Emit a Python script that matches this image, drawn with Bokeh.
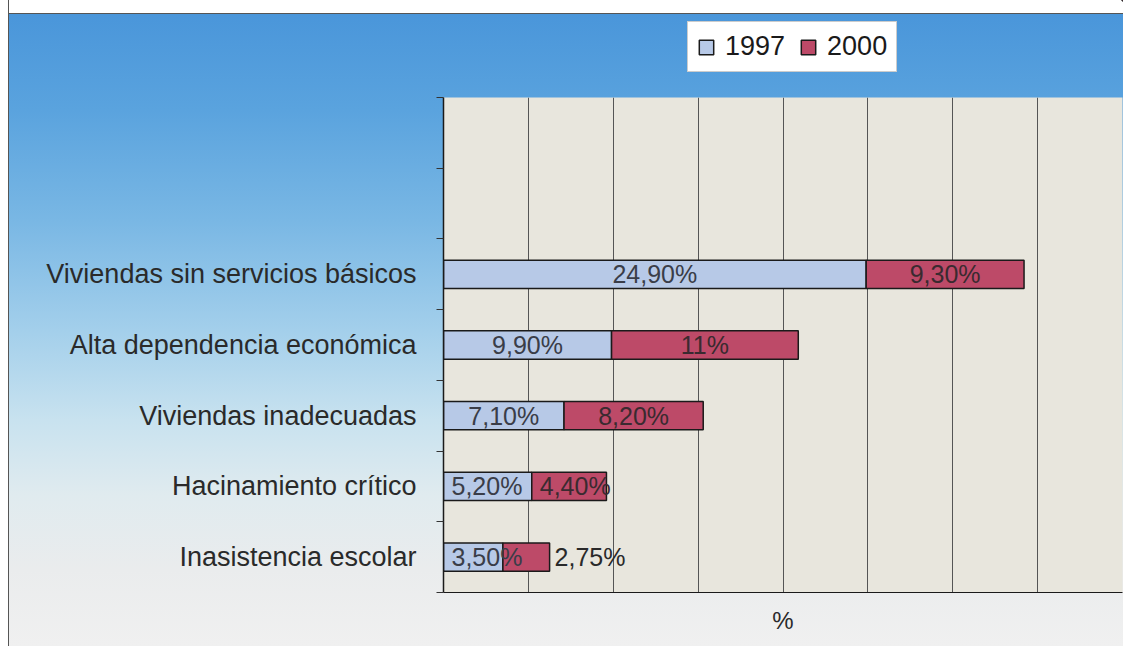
from bokeh.plotting import figure
from bokeh.layouts import column
from bokeh.models import ColumnDataSource, FixedTicker, Legend, LegendItem
from bokeh.core.properties import value
from bokeh.embed import file_html
from bokeh.resources import INLINE

# ---- data (bottom to top) ----
categories = ["Inasistencia escolar", "Hacinamiento crítico", "Viviendas inadecuadas",
              "Alta dependencia económica", "Viviendas sin servicios básicos"]
v1997 = [3.5, 5.2, 7.1, 9.9, 24.9]
v2000 = [2.75, 4.4, 8.2, 11.0, 9.3]
lab1997 = ["3,50%", "5,20%", "7,10%", "9,90%", "24,90%"]
lab2000 = ["2,75%", "4,40%", "8,20%", "11%", "9,30%"]
series = ["1997", "2000"]
x_ticks = [5, 10, 15, 20, 25, 30, 35]
n_slots = 7

FONT = "Liberation Sans"
C1997 = "#b7c9e7"
C2000 = "#bd4a68"
BAR_STYLE = dict(line_color="#1a1a1a", line_width=1.5)

ypos = [i + 0.5 for i in range(len(categories))]
left2000 = v1997
right2000 = [a + b for a, b in zip(v1997, v2000)]

src = ColumnDataSource(dict(y=ypos, l1=[0] * len(v1997), r1=v1997,
                            l2=left2000, r2=right2000))

# ---------------- main chart ----------------
p = figure(frame_width=679, frame_height=495, x_range=(0, 40), y_range=(0, n_slots),
           output_backend="svg", toolbar_location=None,
           min_border_left=443, min_border_right=1, min_border_top=0,
           min_border_bottom=54)
p.border_fill_color = None
p.background_fill_color = "#e8e6dd"
p.outline_line_color = None

r1 = p.hbar(y="y", left="l1", right="r1", height=0.4, source=src,
            fill_color=C1997, **BAR_STYLE)
r2 = p.hbar(y="y", left="l2", right="r2", height=0.4, source=src,
            fill_color=C2000, **BAR_STYLE)

# ---- data labels ----
def add_labels(starts, vals, labs, color, last_outside=False):
    groups = {"center": ([], [], []), "left": ([], [], []), "out": ([], [], [])}
    for i, (s, v, t) in enumerate(zip(starts, vals, labs)):
        if last_outside and i == 0:
            g = groups["out"]; g[0].append(s + v)
        elif v < 6:
            g = groups["left"]; g[0].append(s)
        else:
            g = groups["center"]; g[0].append(s + v / 2)
        g[1].append(ypos[i]); g[2].append(t)
    common = dict(text_font=value(FONT), text_font_size="25px", text_baseline="middle")
    for key, align, off, col in (("center", "center", 0, color),
                                 ("left", "left", 8, color),
                                 ("out", "left", 5, "#2a2a2a")):
        xs, ys, ts = groups[key]
        if xs:
            p.text(x=xs, y=ys, text=ts, text_align=align, x_offset=off,
                   text_color=col, **common)

add_labels([0] * len(v1997), v1997, lab1997, "#3a3d48")
add_labels(left2000, v2000, lab2000, "#3a2a30", last_outside=True)

# ---- axes ----
xa = p.xaxis[0]
xa.ticker = FixedTicker(ticks=[])
xa.major_tick_line_color = None
xa.major_tick_out = 0
xa.minor_tick_line_color = None
xa.axis_line_color = "#1a1a1a"
xa.axis_line_width = 1.2
xa.axis_label = "%"
xa.axis_label_text_font = FONT
xa.axis_label_text_font_size = "24px"
xa.axis_label_text_font_style = "normal"
xa.axis_label_text_color = "#2a2a2a"
xa.axis_label_standoff = 14

ya = p.yaxis[0]
ya.ticker = FixedTicker(ticks=ypos, minor_ticks=list(range(n_slots + 1)))
ya.major_label_overrides = {y: c for y, c in zip(ypos, categories)}
ya.major_tick_line_color = None
ya.major_tick_out = 0
ya.major_tick_in = 0
ya.minor_tick_out = 7
ya.minor_tick_in = 0
ya.minor_tick_line_color = "#333333"
ya.axis_line_color = "#1a1a1a"
ya.axis_line_width = 1.5
ya.major_label_text_font = FONT
ya.major_label_text_font_size = "27px"
ya.major_label_text_color = "#2a2a2a"
ya.major_label_standoff = 20

p.xgrid.ticker = FixedTicker(ticks=x_ticks)
p.xgrid.grid_line_color = "#555555"
p.xgrid.grid_line_width = 1
p.ygrid.grid_line_color = None

# ---------------- legend strip above the chart ----------------
# (its ranges are set so that the key renderers' bars fall outside the view;
#  only their swatches appear in the legend)
top = figure(width=1123, height=97, x_range=(-2, -1), y_range=(-2, -1),
             output_backend="svg", toolbar_location=None,
             min_border_left=0, min_border_right=0, min_border_top=0, min_border_bottom=0)
top.axis.visible = False
top.grid.visible = False
top.border_fill_color = None
top.background_fill_color = None
top.outline_line_color = None
k1 = top.hbar(y="y", left="l1", right="r1", height=0.4, source=src,
              fill_color=C1997, **BAR_STYLE)
k2 = top.hbar(y="y", left="l2", right="r2", height=0.4, source=src,
              fill_color=C2000, **BAR_STYLE)

legend = Legend(items=[LegendItem(label=series[0], renderers=[k1]),
                       LegendItem(label=series[1], renderers=[k2])],
                orientation="horizontal", location=(244, 25),
                glyph_width=18, glyph_height=18, label_standoff=10, spacing=14,
                padding=9, margin=0,
                label_text_font=FONT, label_text_font_size="27px",
                label_text_color="#1a1a1a",
                background_fill_color="white", background_fill_alpha=1,
                border_line_color="#999999", border_line_width=1)
top.add_layout(legend, "center")

layout = column(top, p, spacing=0)
layout.styles = {"background": (
    "linear-gradient(to right, #ffffff 0 8px, #555 8px 9px, transparent 9px) 0 0 / 100% 100% no-repeat, "
    "linear-gradient(to bottom, #ffffff 0 13px, #555 13px 14px, #4a96da 14px, #5aa3de 110px, "
    "#79b7e4 220px, #a3cfeb 330px, #c8e2ef 420px, #e0ebef 495px, #eaeced 570px, #f0f0f0 100%)")}

open("out.html", "w").write(file_html(layout, INLINE))
